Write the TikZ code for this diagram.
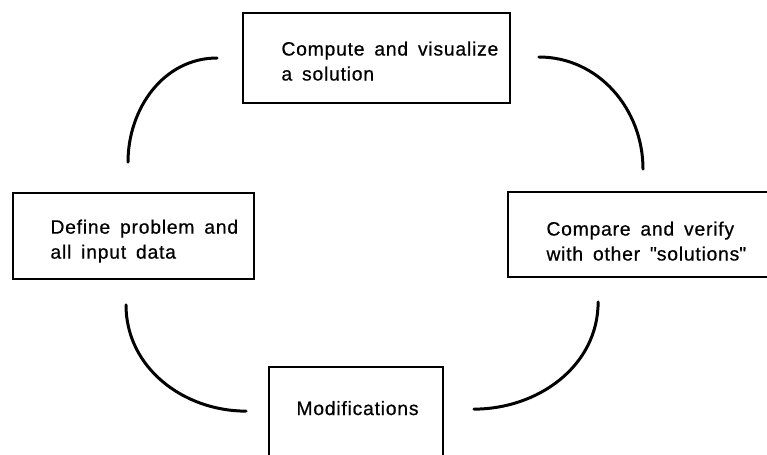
\documentclass[tikz,border=0pt]{standalone}
\usepackage{fontspec}
\setmainfont{Liberation Sans}[LetterSpace=4,WordSpace=1.6,FakeBold=0.6]
\usepackage{tikz}
\usetikzlibrary{positioning}

\tikzset{
  box/.style={draw, line width=1pt, inner sep=0pt},
  txt/.style={anchor=west, align=left, inner sep=0pt, font=\fontsize{11}{14.2}\selectfont},
  arco/.style={line width=1.7pt, line cap=round}
}

\begin{document}
\begin{tikzpicture}
    \useasboundingbox (0,0) rectangle (15.34,9.08);

    % Cajas
    \node[box, minimum width=5.34cm, minimum height=1.8cm] (compute) at (7.53,7.92) {};
    \node[box, minimum width=4.82cm, minimum height=1.72cm] (define) at (2.67,4.36) {};
    \node[box, minimum width=5.4cm, minimum height=1.7cm] (compare) at (12.86,4.39) {};
    \node[box, minimum width=3.48cm, minimum height=2.2cm] (modif) at (7.12,0.64) {};

    % Textos
    \node[txt] (computetxt) at ([shift={(0.78,-0.98)}]compute.north west) {Compute and visualize\\a solution};
    \node[txt] (definetxt) at ([shift={(0.76,-0.98)}]define.north west) {Define problem and\\all input data};
    \node[txt] (comparetxt) at ([shift={(0.78,-1.0)}]compare.north west) {Compare and verify\\with other \textquotedbl solutions\textquotedbl};
    \node[txt] (modiftxt) at ([shift={(0.56,-0.84)}]modif.north west) {Modifications};

    % Arcos
    \draw[arco] ([shift={(-0.11,0.60)}]define.north) to[out=90, in=180] ([xshift=-0.5cm]compute.west);
    \draw[arco] ([shift={(0.56,0.02)}]compute.east) to[out=0, in=90] ([yshift=0.44cm]compare.north);
    \draw[arco] ([shift={(-0.15,-0.5)}]define.south) to[out=-90, in=180] ([shift={(-0.44,-0.9)}]modif.north west);
    \draw[arco] ([shift={(0.6,-0.86)}]modif.north east) to[out=0, in=-90] ([shift={(1.82,-0.48)}]compare.south west);
\end{tikzpicture}
\end{document}
